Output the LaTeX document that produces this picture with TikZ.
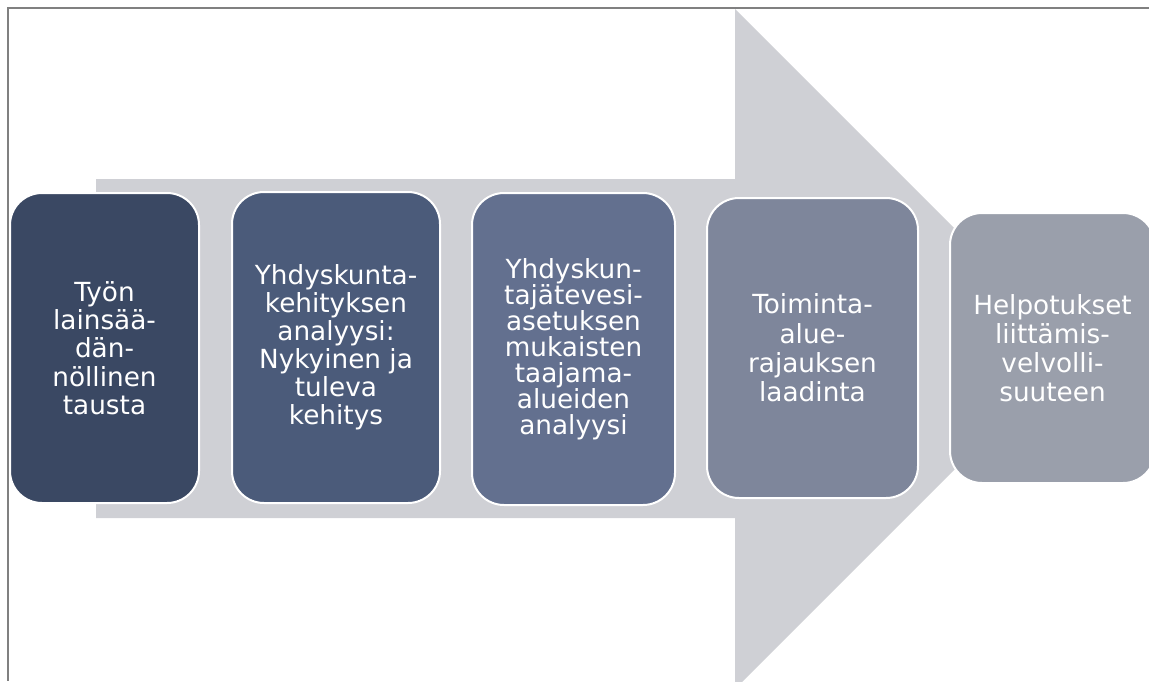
\documentclass[tikz,border=0pt]{standalone}
\usepackage{fontspec}
\setmainfont{DejaVu Sans}
\definecolor{arrowgray}{RGB}{207,208,213}
\definecolor{framegray}{RGB}{128,128,128}
\definecolor{stepA}{RGB}{58,72,99}
\definecolor{stepB}{RGB}{75,91,122}
\definecolor{stepC}{RGB}{99,112,143}
\definecolor{stepD}{RGB}{126,134,155}
\definecolor{stepE}{RGB}{154,159,171}

\begin{document}
\begin{tikzpicture}[x=1pt,y=-1pt]
	\tikzset{StepBox/.style =
		{draw = white,
			line width = 2pt,
			rounded corners = 32pt,
			align = center,
			text = white,
			inner sep = 0pt,
			font = \fontsize{26.3}{28}\selectfont}}
	\useasboundingbox (0,0) rectangle (1149,681);
	\clip (0,0) rectangle (1149,681);
	% big background arrow
	\fill[arrowgray] (96,179) -- (735,179) -- (735,9) -- (1075,349)
		-- (735,689) -- (735,518) -- (96,518) -- cycle;
	\draw[framegray, line width=2pt] (1149,8) -- (8,8) -- (8,681);
	\node[StepBox, fill=stepA, minimum width=189pt, minimum height=310pt,
		font = \fontsize{26.3}{28.3}\selectfont]
		(tausta) at (104.5,348) {Työn\\lainsää-\\dän-\\nöllinen\\tausta};
	\node[StepBox, fill=stepB, minimum width=208pt, minimum height=311pt]
		(kehitys) at (336,347.5) {Yhdyskunta-\\kehityksen\\analyysi:\\Nykyinen ja\\tuleva\\kehitys};
	\node[StepBox, fill=stepC, minimum width=203pt, minimum height=312pt,
		font = \fontsize{26.3}{26}\selectfont]
		(taajama) at (573.5,349) {Yhdyskun-\\tajätevesi-\\asetuksen\\mukaisten\\taajama-\\alueiden\\analyysi};
	\node[StepBox, fill=stepD, minimum width=211pt, minimum height=300pt,
		font = \fontsize{26.3}{29.4}\selectfont]
		(rajaus) at (812.5,348) {Toiminta-\\alue-\\rajauksen\\laadinta};
	\node[StepBox, fill=stepE, minimum width=205pt, minimum height=270pt,
		font = \fontsize{26.3}{29}\selectfont]
		(helpotus) at (1052.5,348) {Helpotukset\\liittämis-\\velvolli-\\suuteen};
\end{tikzpicture}
\end{document}
